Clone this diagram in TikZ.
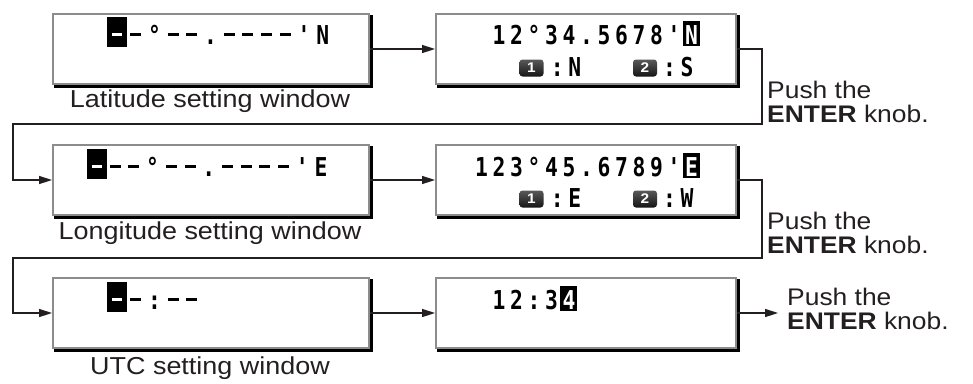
\documentclass[tikz,border=0pt]{standalone}
\usepackage{fontspec}
\setmainfont{Liberation Sans}[FakeStretch=1.1]
\newfontfamily\lcdfont[FakeStretch=0.82]{DejaVu Sans Mono}
\usetikzlibrary{arrows.meta,calc}
\definecolor{boxgray}{HTML}{8C8C8C}
\definecolor{ink}{HTML}{231F20}

\newlength\lcdpitch \setlength\lcdpitch{17.5pt}
\newcommand\lcdcell[1]{\makebox[\lcdpitch][c]{#1}}
\def\lcdloop#1{\ifx\relax#1\else\lcdcell{#1}\expandafter\lcdloop\fi}
\newcommand\lcd[1]{\lcdloop#1\relax}
\newcommand\dsh{\rule[8pt]{11pt}{3pt}}
\newcommand\wdsh{\rule[8pt]{10pt}{3pt}}
\newcommand\blank{}
% cursor block (left column boxes)
\newcommand\invA[1]{\hbox to \lcdpitch{\hss\rlap{\hspace{-10pt}\rule[-3pt]{20pt}{30pt}}\hbox to 0pt{\hss\color{white}#1\hss}\hss}}
% highlighted character (right column boxes)
\newcommand\invB[1]{\hbox to \lcdpitch{\hss\rlap{\hspace{-8.5pt}\rule[-2pt]{17pt}{25pt}}\hbox to 0pt{\hss\color{white}#1\hss}\hss}}

\tikzset{
  lcdbox/.style={draw=boxgray, line width=2pt, fill=white, inner sep=0pt,
    minimum width=#1, minimum height=70pt, anchor=north west},
  boxshadow/.style={draw=black, line width=2.5pt},
  lcdrow/.style={anchor=base west, inner sep=0pt, text=black,
    font=\lcdfont\bfseries\fontsize{26}{26}\selectfont},
  keycap/.style={rounded corners=3pt, top color=gray!70!black, bottom color=black!92,
    minimum width=24pt, minimum height=17pt, inner sep=0pt, text=white,
    font=\bfseries\fontsize{14}{14}\selectfont},
  caption/.style={inner sep=0pt, text=ink, font=\fontsize{24.5}{24.5}\selectfont},
  push/.style={anchor=west, align=left, inner sep=0pt, text=ink,
    font=\fontsize{24}{24}\selectfont},
  conn/.style={draw=ink, line width=1.5pt, -{Triangle[length=13pt,width=8pt]}},
}

\begin{document}
\begin{tikzpicture}[x=1pt,y=-1pt]
\useasboundingbox (0,0) rectangle (973,383);

% ---------- boxes ----------
\node[lcdbox=316pt] (A) at (52,13) {};
\node[lcdbox=300pt] (B) at (435,13) {};
\node[lcdbox=316pt] (C) at (52,144) {};
\node[lcdbox=300pt] (D) at (435,144) {};
\node[lcdbox=316pt] (E) at (52,277) {};
\node[lcdbox=300pt] (F) at (435,277) {};

\foreach \b in {A,B,C,D,E,F}{
  \draw[boxshadow] ([shift={(2,1.5)}]\b.south west) -- ([shift={(1.5,1.5)}]\b.south east)
    -- ([shift={(1.5,2)}]\b.north east);
}

% ---------- LCD texts: left column (wider pitch) ----------
\begingroup
\setlength\lcdpitch{18.7pt}
\node[lcdrow] (a1) at (107.5,44) {\lcd{{\invA\wdsh}\dsh°\dsh\dsh.\dsh\dsh\dsh\dsh'N}};
\node[lcdrow] (c1) at (87,176) {\lcd{{\invA\wdsh}\dsh\dsh°\dsh\dsh.\dsh\dsh\dsh\dsh'E}};
\node[lcdrow] (e1) at (107.5,309) {\lcd{{\invA\wdsh}\dsh:\dsh\dsh}};
\endgroup

% ---------- LCD texts: right column ----------
\node[lcdrow] (b1) at (490,44) {\lcd{12°34.5678'{\invB N}}};
\node[keycap] (bk1) at (531.5,68) {1};
\node[lcdrow] (b2) at (548.25,76) {\lcd{:N}};
\node[keycap] (bk2) at (645,68) {2};
\node[lcdrow] (b3) at (660.5,76) {\lcd{:S}};

\node[lcdrow] (d1) at (472.5,176) {\lcd{123°45.6789'{\invB E}}};
\node[keycap] (dk1) at (531.5,199) {1};
\node[lcdrow] (d2) at (548.25,207) {\lcd{:E}};
\node[keycap] (dk2) at (645,199) {2};
\node[lcdrow] (d3) at (660.5,207) {\lcd{:W}};

\node[lcdrow] (f1) at (490,309) {\lcd{12:3{\invB 4}}};

% ---------- captions ----------
\node[caption] (la) at (210,101) {Latitude setting window};
\node[caption] (lo) at (210,233) {Longitude setting window};
\node[caption] (lu) at (210,368) {UTC setting window};

\node[push] (p1) at (767,102) {Push the\\\textbf{ENTER} knob.};
\node[push] (p2) at (767,233) {Push the\\\textbf{ENTER} knob.};
\node[push] (p3) at (787,309) {Push the\\\textbf{ENTER} knob.};

% ---------- connectors ----------
\coordinate (r1) at (762,124);
\coordinate (l1) at (13,124);
\coordinate (r2) at (762,258);
\coordinate (l2) at (13,258);
\coordinate (q3) at (778,0);

\draw[conn] (A.east) -- (B.west);
\draw[conn] (C.east) -- (D.west);
\draw[conn] (E.east) -- (F.west);
\draw[conn] (B.east) -| (r1) -- (l1) |- (C.west);
\draw[conn] (D.east) -| (r2) -- (l2) |- (E.west);
\draw[conn] (F.east) -- (F.east -| q3);
\end{tikzpicture}
\end{document}
